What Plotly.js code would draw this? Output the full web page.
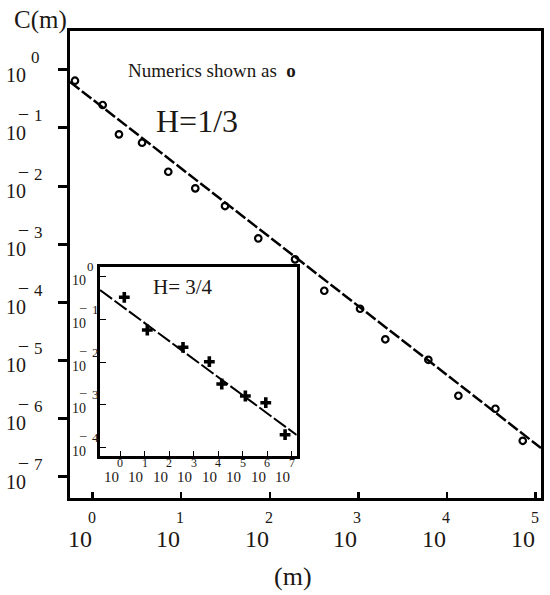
<!DOCTYPE html>
<html>
<head>
<meta charset="utf-8">
<script src="https://cdn.plot.ly/plotly-3.0.1.min.js"></script>
<style>html,body{margin:0;padding:0;background:#fff}</style>
</head>
<body>
<div id="chart" style="width:550px;height:595px"></div>
<script>
// ---- data ----
// main plot: numerics (open circles), H = 1/3
const mainM = [0.631, 1.297, 1.98, 3.61, 7.14, 14.4, 31.2, 74.1, 192.8, 412, 1045, 2014, 6166, 13460, 35240, 71780];
const mainC = [0.649, 0.248, 0.0776, 0.0556, 0.0176, 0.00912, 0.00452, 0.001256, 5.47e-4, 1.574e-4, 7.71e-5, 2.30e-5, 1.021e-5, 2.455e-6, 1.466e-6, 4.12e-7];
// main fitted (dashed) line end points
const fitM = [0.5546, 115350];
const fitC = [0.618, 3.09e-7];

// inset: numerics (crosses), H = 3/4
const insetM = [1.496, 12.97, 369.8, 4365, 14000, 128200, 871000, 5.333e6];
const insetC = [0.3214, 0.0556, 0.02203, 0.01016, 0.003076, 0.001618, 0.001130, 2.032e-4];
const insetFitM = [0.1531, 1.585e7];
const insetFitC = [0.4742, 1.995e-4];

// tick exponents
const mainXTickExp = [0, 1, 2, 3, 4, 5];
const mainYTickExp = [0, -1, -2, -3, -4, -5, -6, -7];
const insetXTickExp = [0, 1, 2, 3, 4, 5, 6, 7];
const insetYTickExp = [0, -1, -2, -3, -4];

// texts
const yTitle = 'C(m)';
const xTitle = '(m)';
const legendText = 'Numerics shown as  <b>o</b>';
const mainH = 'H=1/3';
const insetH = 'H= 3/4';

const FONT = 'Liberation Serif, Times New Roman, serif';
const INK = '#1c1814';

const traces = [
  {x: fitM, y: fitC, type: 'scatter', mode: 'lines', xaxis: 'x', yaxis: 'y',
   line: {color: '#000', width: 2.5, dash: '12px,3px'}, hoverinfo: 'skip'},
  {x: mainM, y: mainC, type: 'scatter', mode: 'markers', xaxis: 'x', yaxis: 'y',
   marker: {symbol: 'circle-open', size: 6.5, color: '#000', line: {width: 2.2, color: '#000'}}},
  {x: insetFitM, y: insetFitC, type: 'scatter', mode: 'lines', xaxis: 'x2', yaxis: 'y2',
   line: {color: '#000', width: 2, dash: '15px,3px'}, hoverinfo: 'skip'},
  {x: insetM, y: insetC, type: 'scatter', mode: 'markers', xaxis: 'x2', yaxis: 'y2',
   marker: {symbol: 'cross', size: 9, color: '#000', line: {width: 0}}}
];

const ann = [];
function xLabels(exps, xref, yref, o) {
  exps.forEach(k => {
    ann.push({x: k, xref: xref, y: 0, yref: yref, text: '10', showarrow: false,
      xanchor: 'center', yanchor: 'middle', xshift: o.dx10, yshift: o.dy10,
      font: {family: FONT, size: o.f10, color: INK}});
    ann.push({x: k, xref: xref, y: 0, yref: yref, text: String(Math.abs(k)), showarrow: false,
      xanchor: 'center', yanchor: 'middle', xshift: o.dxe, yshift: o.dye,
      font: {family: FONT, size: o.fe, color: INK}});
  });
}
function yLabels(exps, xref, yref, o) {
  exps.forEach(k => {
    ann.push({x: 0, xref: xref, y: k, yref: yref, text: '10', showarrow: false,
      xanchor: 'center', yanchor: 'middle', xshift: o.dx10, yshift: o.dy10,
      font: {family: FONT, size: o.f10, color: INK}});
    ann.push({x: 0, xref: xref, y: k, yref: yref, text: String(Math.abs(k)), showarrow: false,
      xanchor: 'center', yanchor: 'middle', xshift: k < 0 ? o.dxeNeg : o.dxe, yshift: o.dye,
      font: {family: FONT, size: o.fe, color: INK}});
    if (k < 0) {
      // the minus sign is drawn as a bar over the "0" of "10", as in the reference
      ann.push({x: 0, xref: xref, y: k, yref: yref, text: '\u2013', showarrow: false,
        xanchor: 'center', yanchor: 'middle', xshift: o.dxb, yshift: o.dyb,
        font: {family: FONT, size: o.fb, color: INK}});
    }
  });
}
xLabels(mainXTickExp, 'x', 'paper', {f10: 24, fe: 16, dx10: -13, dy10: -41, dxe: -1, dye: -19});
yLabels(mainYTickExp, 'paper', 'y', {f10: 20, fe: 17, dx10: -54, dy10: -5, dxe: -35, dxeNeg: -32, dye: 12, dxb: -46.5, dyb: 15, fb: 18});
xLabels(insetXTickExp, 'x2', 'y2 domain', {f10: 15, fe: 12, dx10: -9, dy10: -21, dxe: 0, dye: -7});
yLabels(insetYTickExp, 'x2 domain', 'y2', {f10: 14, fe: 13, dx10: -21, dy10: -4, dxe: -10, dxeNeg: -5, dye: 10, dxb: -17, dyb: 13, fb: 13});

// titles and inner texts (paper coordinates of the 471x467 plot area)
ann.push({x: -0.0616, y: 1.0236, xref: 'paper', yref: 'paper', text: yTitle, showarrow: false,
  xanchor: 'center', yanchor: 'middle', font: {family: FONT, size: 25, color: INK}});
ann.push({x: 0.4735, y: -0.169, xref: 'paper', yref: 'paper', text: xTitle, showarrow: false,
  xanchor: 'center', yanchor: 'middle', font: {family: FONT, size: 26, color: INK}});
ann.push({x: 0.118, y: 0.915, xref: 'paper', yref: 'paper', text: legendText, showarrow: false,
  xanchor: 'left', yanchor: 'middle', font: {family: FONT, size: 19, color: INK}});
ann.push({x: 0.2707, y: 0.8073, xref: 'paper', yref: 'paper', text: mainH, showarrow: false,
  xanchor: 'center', yanchor: 'middle', font: {family: FONT, size: 32, color: INK}});
ann.push({x: 0.2399, y: 0.4511, xref: 'paper', yref: 'paper', text: insetH, showarrow: false,
  xanchor: 'center', yanchor: 'middle', font: {family: FONT, size: 21, color: INK}});

const layout = {
  width: 550, height: 595,
  margin: {l: 70, r: 9, t: 31, b: 97, pad: 0},
  paper_bgcolor: '#fff', plot_bgcolor: '#fff',
  showlegend: false,
  font: {family: FONT, color: INK},
  xaxis: {type: 'log', range: [-0.256, 5.062], domain: [0, 1], anchor: 'y',
    tickmode: 'array', tickvals: mainXTickExp.map(k => Math.pow(10, k)), showticklabels: false,
    ticks: 'inside', ticklen: 6, tickwidth: 2.5, tickcolor: '#000',
    showline: true, linewidth: 3, linecolor: '#000', mirror: true,
    showgrid: false, zeroline: false},
  yaxis: {type: 'log', range: [-7.37, 0.668], domain: [0, 1], anchor: 'x',
    tickmode: 'array', tickvals: mainYTickExp.map(k => Math.pow(10, k)), showticklabels: false,
    ticks: 'outside', ticklen: 9, tickwidth: 3, tickcolor: '#000',
    showline: true, linewidth: 3, linecolor: '#000', mirror: true,
    showgrid: false, zeroline: false},
  xaxis2: {type: 'log', range: [-0.815, 7.20], domain: [0.0637, 0.4813], anchor: 'y2',
    tickmode: 'array', tickvals: insetXTickExp.map(k => Math.pow(10, k)), showticklabels: false,
    ticks: 'inside', ticklen: 5, tickwidth: 1, tickcolor: '#000',
    showline: true, linewidth: 3, linecolor: '#000', mirror: true,
    showgrid: false, zeroline: false},
  yaxis2: {type: 'log', range: [-4.188, 0.219], domain: [0.0899, 0.4953], anchor: 'x2',
    tickmode: 'array', tickvals: insetYTickExp.map(k => Math.pow(10, k)), showticklabels: false,
    ticks: 'inside', ticklen: 6, tickwidth: 1, tickcolor: '#000',
    showline: true, linewidth: 3, linecolor: '#000', mirror: true,
    showgrid: false, zeroline: false},
  annotations: ann
};

Plotly.newPlot('chart', traces, layout, {displayModeBar: false, staticPlot: true});
</script>
</body>
</html>
